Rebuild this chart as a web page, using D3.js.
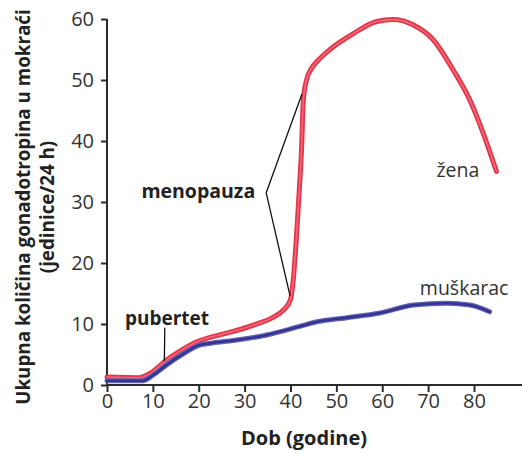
<!DOCTYPE html>
<html><head><meta charset="utf-8">
<script src="https://cdn.jsdelivr.net/npm/d3@7"></script>
<style>
html,body{margin:0;padding:0;background:#fff;}
svg{display:block;font-family:"Open Sans",sans-serif;}
</style></head>
<body><svg id="c" width="522" height="453"></svg>
<script>
// Data
const xTicks = [0,10,20,30,40,50,60,70,80];
const yTicks = [0,10,20,30,40,50,60];
const zenaAge = [0,7,10,13,16,20,25,29,33,36,38.5,40,40.6,41.3,42,42.4,42.8,43.5,44.5,46,48.6,53.7,58.8,62.4,66.8,71.1,75.5,79.1,82,84.9];
const zenaVal = [1.3,1.2,2.2,4.1,5.6,7.2,8.3,9.1,10.1,11.0,12.3,14.0,17.2,24.3,33,38.5,46.7,50,51.8,53.2,55,57.6,59.6,59.9,59.0,56.6,51.6,46.7,41.3,35];
const muskAge = [0,7.8,10,13,16,20,23,27.5,34.8,42,46,52,59.5,66.8,74,79.1,83.4];
const muskVal = [0.7,0.7,1.6,3.3,4.8,6.5,6.9,7.3,8.2,9.6,10.4,11.0,11.8,13.1,13.4,13.1,12.0];

const svg = d3.select("#c");
const x = d3.scaleLinear().domain([0,80]).range([107,474]);
const y = d3.scaleLinear().domain([0,60]).range([385,19]);
const axisColor = "#2b2b2b";

// axes
const gx = svg.append("g").attr("transform",`translate(0,${y(0)})`)
  .call(d3.axisBottom(x).tickValues(xTicks).tickSize(7).tickPadding(2).tickFormat(d3.format("d")));
gx.select(".domain").remove();
svg.append("line").attr("x1",x(0)).attr("x2",522).attr("y1",y(0)).attr("y2",y(0))
  .attr("stroke",axisColor).attr("stroke-width",2);
const gy = svg.append("g").attr("transform",`translate(${x(0)},0)`)
  .call(d3.axisLeft(y).tickValues(yTicks).tickSize(6).tickPadding(7).tickFormat(d3.format("d")));
gy.select(".domain").remove();
svg.append("line").attr("x1",x(0)).attr("x2",x(0)).attr("y1",y(0)+1).attr("y2",y(60))
  .attr("stroke",axisColor).attr("stroke-width",2);
[gx,gy].forEach(g=>{
  g.selectAll(".tick line").attr("stroke",axisColor).attr("stroke-width",2);
  g.selectAll(".tick text").attr("fill","#333").style("font-size","20px").style("font-family","'Open Sans',sans-serif");
});

// lines
const line = d3.line().x(d=>x(d[0])).y(d=>y(d[1])).curve(d3.curveMonotoneX);
const zena = zenaAge.map((a,i)=>[a,zenaVal[i]]);
const musk = muskAge.map((a,i)=>[a,muskVal[i]]);
svg.append("path").attr("d",line(zena)).attr("fill","none").attr("stroke","#e23549").attr("stroke-width",5).attr("stroke-linecap","round");
svg.append("path").attr("d",line(zena)).attr("fill","none").attr("stroke","#f2687a").attr("stroke-width",1.6).attr("stroke-linecap","round");
svg.append("path").attr("d",line(musk)).attr("fill","none").attr("stroke","#6a62b8").attr("stroke-width",5).attr("stroke-linecap","round");
svg.append("path").attr("d",line(musk)).attr("fill","none").attr("stroke","#2f3590").attr("stroke-width",2.6).attr("stroke-linecap","round");

// annotations
const menoVertex = [34.7,31.5], menoUp=[42.5,47.7], menoDown=[39.9,14.6];
const pubTop=[12.6,9.4], pubBot=[12.5,3.9];
const ann = svg.append("g").attr("stroke","#111").attr("stroke-width",1.3).attr("fill","none");
ann.append("polyline").attr("points",[menoUp,menoVertex,menoDown].map(p=>[x(p[0]),y(p[1])].join(",")).join(" "));
ann.append("line").attr("x1",x(pubTop[0])).attr("y1",y(pubTop[1])).attr("x2",x(pubBot[0])).attr("y2",y(pubBot[1]));

const lab = (t,xa,ya,opts)=>svg.append("text").attr("x",x(xa)).attr("y",y(ya)).text(t)
  .attr("fill",opts.fill||"#222").attr("text-anchor",opts.anchor||"start")
  .style("font-size",opts.size+"px").style("font-weight",opts.weight||400);
lab("menopauza",32.3,30.6,{size:19.5,weight:700,anchor:"end"});
lab("pubertet",3.9,9.8,{size:19,weight:700});
lab("žena",71.8,34.1,{size:19.5,fill:"#333"});
lab("muškarac",68.2,14.8,{size:19.5,fill:"#333"});

// axis titles
svg.append("text").attr("x",304).attr("y",445).attr("text-anchor","middle")
  .style("font-size","20px").style("font-weight",700).attr("fill","#222").text("Dob (godine)");
const yt = svg.append("text").attr("transform","translate(0,207) rotate(-90)").attr("text-anchor","middle")
  .style("font-size","18.8px").style("font-weight",700).attr("fill","#222");
yt.append("tspan").attr("x",0).attr("y",30).text("Ukupna količina gonadotropina u mokraći");
yt.append("tspan").attr("x",0).attr("y",54).text("(jedinice/24 h)");
</script></body></html>
